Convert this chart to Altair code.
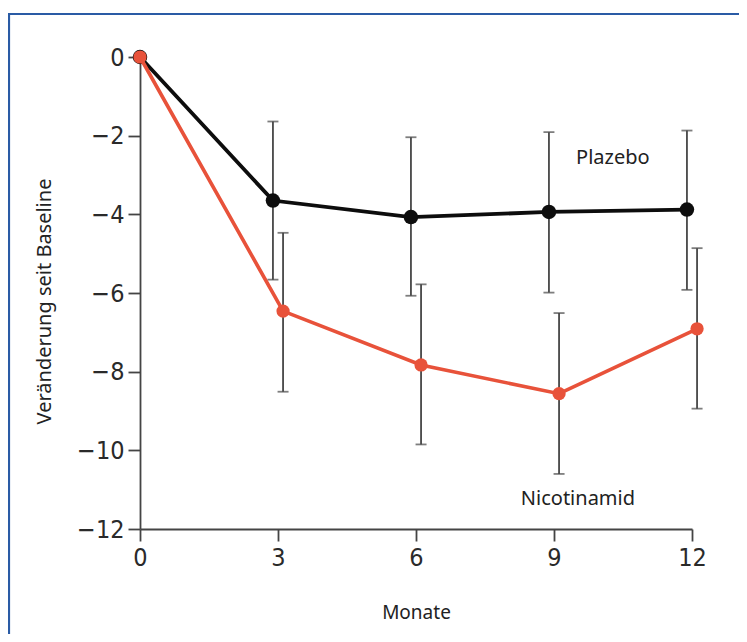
import altair as alt
import pandas as pd

# ---- data ----
months = [0, 3, 6, 9, 12]
groups = ["Plazebo", "Nicotinamid"]

placebo_mean = [0, -3.65, -4.07, -3.94, -3.88]
placebo_lo = [None, -5.66, -6.07, -5.99, -5.92]
placebo_hi = [None, -1.64, -2.04, -1.91, -1.87]

nico_mean = [0, -6.46, -7.83, -8.56, -6.91]
nico_lo = [None, -8.51, -9.85, -10.60, -8.94]
nico_hi = [None, -4.47, -5.78, -6.51, -4.86]

label_text = ["Plazebo", "Nicotinamid"]
label_x = [10.28, 9.52]
label_y = [-2.58, -11.23]

rows = []
for g, mean, lo, hi in [
    ("Plazebo", placebo_mean, placebo_lo, placebo_hi),
    ("Nicotinamid", nico_mean, nico_lo, nico_hi),
]:
    for m, v, l, h in zip(months, mean, lo, hi):
        rows.append({"group": g, "month": m, "mean": v, "lo": l, "hi": h})
df = pd.DataFrame(rows)
labels = pd.DataFrame({"text": label_text, "x": label_x, "y": label_y})

RED = "#e8523a"
BLACK = "#0d0d0d"
GRAY = "#474747"
TICKFONT = "Liberation Sans Narrow, DejaVu Sans Condensed, sans-serif"
TEXTFONT = "Noto Sans, Open Sans, sans-serif"
XTITLE = "Monate"
YTITLE = "Veränderung seit Baseline"

xscale = alt.Scale(domain=[0, 12], nice=False, zero=False)
yscale = alt.Scale(domain=[-12, 0], nice=False)

base = alt.Chart(df).transform_calculate(
    xpos="datum.month == 0 ? 0 : datum.month + (datum.group == 'Plazebo' ? -0.11 : 0.11)"
)

xenc = alt.X(
    "xpos:Q",
    scale=xscale,
    title=XTITLE,
    axis=alt.Axis(
        values=months,
        titleFont=TEXTFONT,
        titleFontSize=19,
        titleFontWeight="normal",
        titleColor="#222222",
        titleY=83,
        titleBaseline="middle",
        labelFont=TICKFONT,
        labelFontSize=25,
        labelColor="#2a2a2a",
        labelPadding=4,
        labelFlush=False,
        tickSize=12,
        tickColor="#444444",
        tickWidth=1.8,
        domainColor="#444444",
        domainWidth=1.8,
        grid=False,
    ),
)
yenc = alt.Y(
    "mean:Q",
    scale=yscale,
    title=YTITLE,
    axis=alt.Axis(
        values=[0, -2, -4, -6, -8, -10, -12],
        titleFont=TEXTFONT,
        titleFontSize=20,
        titleFontWeight="normal",
        titleColor="#222222",
        titleX=-96,
        titleY=244,
        titleBaseline="middle",
        titleAngle=-90,
        labelFont=TICKFONT,
        labelFontSize=25,
        labelColor="#2a2a2a",
        labelPadding=4,
        labelFlush=False,
        tickSize=12,
        tickColor="#444444",
        tickWidth=1.8,
        domainColor="#444444",
        domainWidth=1.8,
        grid=False,
    ),
)
xplain = alt.X("xpos:Q", scale=xscale, title=XTITLE)
yplain = alt.Y("mean:Q", scale=yscale, title=YTITLE)

errbars = base.transform_filter("datum.lo != null").mark_errorbar(
    ticks=alt.MarkConfig(size=11, color=GRAY, strokeWidth=1.8),
    rule=alt.MarkConfig(color=GRAY, strokeWidth=1.8),
    color=GRAY,
    thickness=1.8,
).encode(
    x=xplain,
    y=alt.Y("lo:Q", scale=yscale, title=YTITLE),
    y2="hi:Q",
)

placebo_line = base.transform_filter("datum.group == 'Plazebo'").mark_line(
    color=BLACK, strokeWidth=3.8
).encode(x=xenc, y=yenc, order="month:Q")
placebo_pts = base.transform_filter("datum.group == 'Plazebo'").mark_circle(
    color=BLACK, size=210, opacity=1
).encode(x=xplain, y=yplain)

nico_line = base.transform_filter("datum.group == 'Nicotinamid'").mark_line(
    color=RED, strokeWidth=3.6
).encode(x=xplain, y=yplain, order="month:Q")
nico_pts = base.transform_filter("datum.group == 'Nicotinamid'").mark_circle(
    color=RED, size=175, opacity=1
).encode(x=xplain, y=yplain)

text = alt.Chart(labels).mark_text(
    font=TEXTFONT, fontSize=20, color="#222222", align="center", baseline="middle"
).encode(
    x=alt.X("x:Q", scale=xscale, title=XTITLE),
    y=alt.Y("y:Q", scale=yscale, title=YTITLE),
    text="text:N",
)

frame_df = pd.DataFrame({"k": [1]})
frame_top = alt.Chart(frame_df).mark_rule(color="#2a5ba5", strokeWidth=2.2).encode(
    x=alt.value(-131), x2=alt.value(700), y=alt.value(-43)
)
frame_left = alt.Chart(frame_df).mark_rule(color="#2a5ba5", strokeWidth=2.2).encode(
    x=alt.value(-131), y=alt.value(-44), y2=alt.value(700)
)

chart = alt.layer(
    errbars, placebo_line, placebo_pts, nico_line, nico_pts, text, frame_top, frame_left
).properties(
    width=552,
    height=472,
    padding={"left": 132, "top": 49, "right": 47, "bottom": 105},
    autosize=alt.AutoSizeParams(type="none"),
    background="white",
).configure_view(stroke=None)

chart.save("out.html", embed_options={"renderer": "svg", "actions": False})
